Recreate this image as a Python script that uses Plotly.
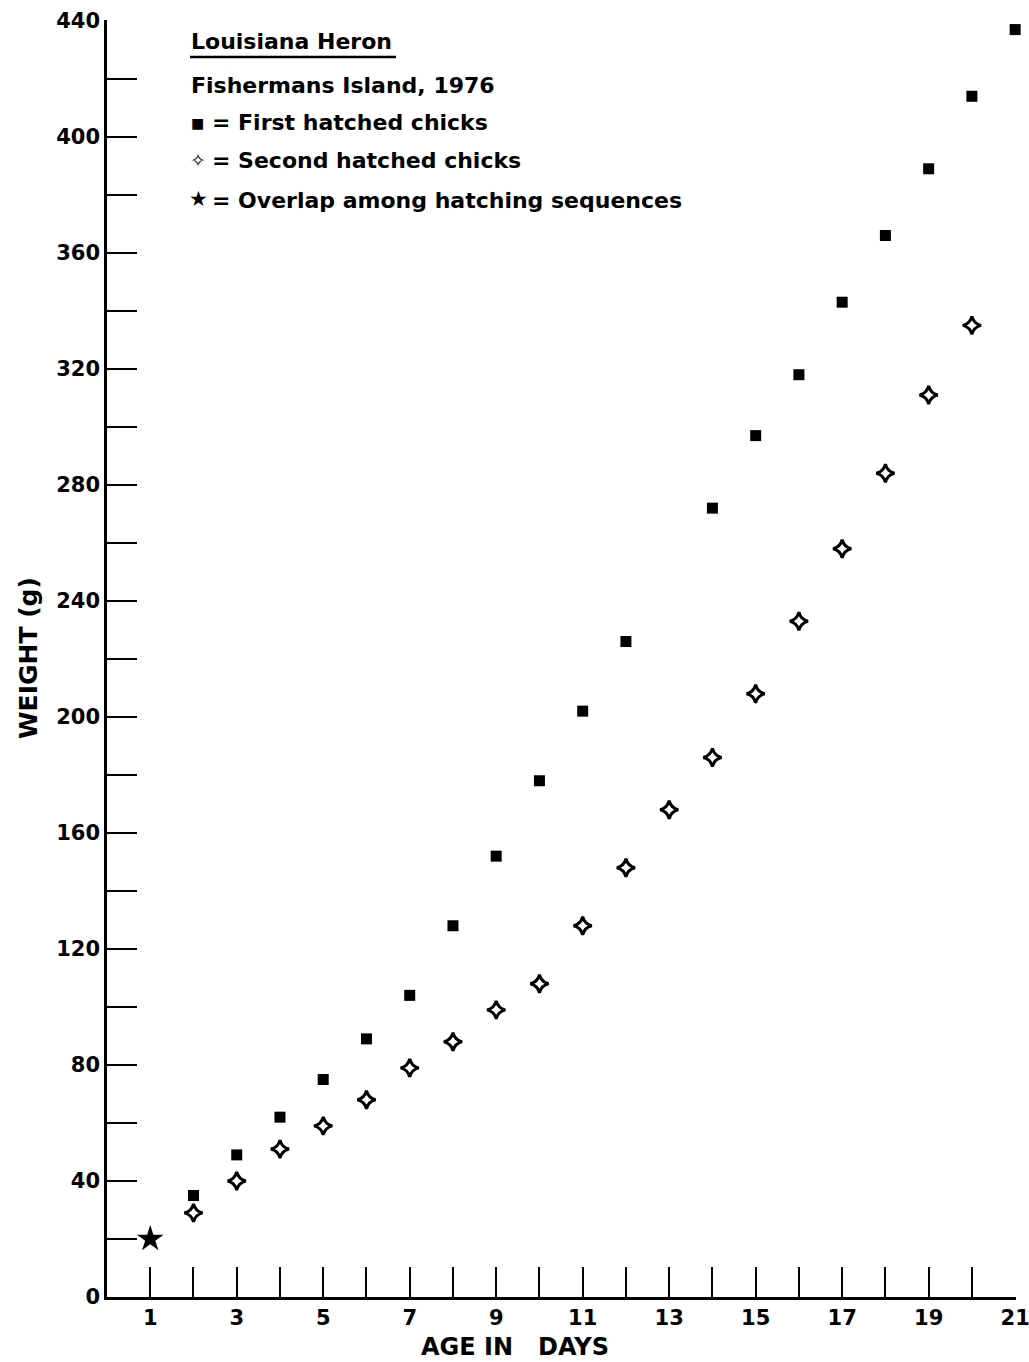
import plotly.graph_objects as go

# Louisiana Heron chick growth, Fishermans Island 1976
days_first = [2, 3, 4, 5, 6, 7, 8, 9, 10, 11, 12, 14, 15, 16, 17, 18, 19, 20, 21]
weight_first = [35, 49, 62, 75, 89, 104, 128, 152, 178, 202, 226,
                272, 297, 318, 343, 366, 389, 414, 437]

days_second = [2, 3, 4, 5, 6, 7, 8, 9, 10, 11, 12, 13, 14, 15, 16, 17, 18, 19, 20]
weight_second = [29, 40, 51, 59, 68, 79, 88, 99, 108, 128, 148,
                 168, 186, 208, 233, 258, 284, 311, 335]

days_overlap = [1]
weight_overlap = [20]

x_tick_days = list(range(1, 22))
x_tick_labels = [str(d) if d % 2 == 1 else "" for d in x_tick_days]
y_tick_vals = list(range(0, 441, 20))
y_tick_labels = [str(v) if v % 40 == 0 else "" for v in y_tick_vals]

FONT = "DejaVu Sans"
W, H = 1029, 1362
L, R, T, B = 107, 13, 20, 65
plot_w = W - L - R
plot_h = H - T - B


def px_x(px):
    return (px - L) / plot_w


def px_y(py):
    return (H - B - py) / plot_h


fig = go.Figure()

fig.add_trace(go.Scatter(
    x=days_first, y=weight_first, mode="markers",
    marker=dict(symbol="square", size=11, color="black"),
    cliponaxis=False, showlegend=False))

fig.add_trace(go.Scatter(
    x=days_second, y=weight_second, mode="markers",
    marker=dict(symbol="star-diamond-open", size=13, color="black",
                line=dict(width=3, color="black")),
    cliponaxis=False, showlegend=False))

fig.add_trace(go.Scatter(
    x=days_overlap, y=weight_overlap, mode="markers",
    marker=dict(symbol="star", size=20, color="black"),
    cliponaxis=False, showlegend=False))

axis_common = dict(
    showline=True, linecolor="black", linewidth=2.5,
    ticks="inside", ticklen=30, tickwidth=2, tickcolor="black",
    showgrid=False, zeroline=False, ticklabeloverflow="allow",
    automargin=False,
    tickfont=dict(family=FONT, size=21, color="black", weight="bold"),
)

fig.update_xaxes(range=[0, 21.02], tickmode="array",
                 tickvals=x_tick_days, ticktext=x_tick_labels, **axis_common)
fig.update_yaxes(range=[0, 440.3], tickmode="array",
                 tickvals=y_tick_vals, ticktext=y_tick_labels, **axis_common)

text_font = dict(family=FONT, size=22, color="black", weight="bold")

annotations = [
    dict(text="AGE\u00a0IN\u00a0\u00a0 DAYS", x=px_x(515), y=px_y(1347),
         xanchor="center", yanchor="middle",
         font=dict(family=FONT, size=24, color="black", weight="bold")),
    dict(text="WEIGHT (g)", x=px_x(28), y=px_y(658), textangle=-90,
         xanchor="center", yanchor="middle",
         font=dict(family=FONT, size=25, color="black", weight="bold")),
    dict(text="Louisiana Heron", x=px_x(189), y=px_y(42),
         xanchor="left", yanchor="middle", font=text_font),
    dict(text="Fishermans Island, 1976", x=px_x(189), y=px_y(86),
         xanchor="left", yanchor="middle", font=text_font),
    dict(text="\u25a0", x=px_x(189), y=px_y(123),
         xanchor="left", yanchor="middle",
         font=dict(family=FONT, size=14, color="black")),
    dict(text="= First hatched chicks", x=px_x(210), y=px_y(123),
         xanchor="left", yanchor="middle", font=text_font),
    dict(text="\u2727", x=px_x(188), y=px_y(160),
         xanchor="left", yanchor="middle",
         font=dict(family=FONT, size=19, color="black")),
    dict(text="= Second hatched chicks", x=px_x(210), y=px_y(160),
         xanchor="left", yanchor="middle", font=text_font),
    dict(text="\u2605", x=px_x(187), y=px_y(199),
         xanchor="left", yanchor="middle",
         font=dict(family=FONT, size=21, color="black")),
    dict(text="= Overlap among hatching sequences", x=px_x(210), y=px_y(200),
         xanchor="left", yanchor="middle", font=text_font),
]
for a in annotations:
    a.update(xref="paper", yref="paper", showarrow=False)

fig.update_layout(
    width=W, height=H,
    margin=dict(l=L, r=R, t=T, b=B, autoexpand=False),
    paper_bgcolor="white", plot_bgcolor="white",
    annotations=annotations,
    shapes=[dict(type="line", xref="paper", yref="paper",
                 x0=px_x(190), x1=px_x(396), y0=px_y(57), y1=px_y(57),
                 line=dict(color="black", width=2.5))],
)

fig.write_html("out.html")
